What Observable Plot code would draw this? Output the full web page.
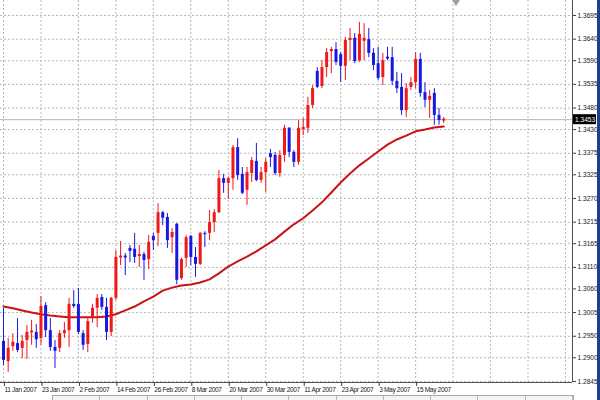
<!DOCTYPE html>
<html>
<head>
<meta charset="utf-8">
<script src="https://cdn.jsdelivr.net/npm/d3@7"></script>
<script src="https://cdn.jsdelivr.net/npm/@observablehq/plot@0.6"></script>
<style>
  html, body { margin: 0; padding: 0; background: #fff; }
  #wrap { position: relative; width: 600px; height: 400px; overflow: hidden; background: #fff; }
  #edge { position: absolute; right: 0; top: 0; width: 3px; height: 400px; background: #1c3f94; }
  #shift { position: absolute; left: 452px; top: 0; width: 0; height: 0;
           border-left: 4px solid transparent; border-right: 4px solid transparent; border-top: 6px solid #a0a0a0; }
  #tabs { position: absolute; left: 52px; top: 395px; width: 520px; height: 8px;
          border: 1px solid #a8a8a8; background: #f4f4f4; display: flex; }
  #tabs span { flex: 1; border-right: 1px solid #b8b8b8; }
  #wrap svg text.xt { letter-spacing: -0.3px; }
  #wrap svg g[aria-label="x-axis tick label"] text { letter-spacing: -0.35px; }
</style>
</head>
<body>
<div id="wrap"><div id="edge"></div><div id="shift"></div>
<div id="tabs"><span></span><span></span><span></span><span></span><span></span><span></span><span></span><span></span><span></span><span></span><span></span></div>
</div>
<script>
// Daily EURUSD-style candles, 11 Jan 2007 .. 23 May 2007 (bar index 0..94)
const opens  = [1.2938,1.2891,1.2926,1.2933,1.2922,1.2940,1.2959,1.2959,1.2945,1.3021,
                1.2963,1.2924,1.2922,1.2956,1.2963,1.3024,1.3024,1.2956,1.2931,1.2994,
                1.3015,1.3040,1.3017,1.2959,1.3038,1.3133,1.3135,1.3154,1.3152,1.3135,
                1.3140,1.3128,1.3182,1.3189,1.3237,1.3226,1.3179,1.3210,1.3084,1.3131,
                1.3182,1.3133,1.3117,1.3189,1.3189,1.3214,1.3237,1.3316,1.3305,1.3316,
                1.3388,1.3326,1.3289,1.3328,1.3356,1.3312,1.3330,1.3374,1.3370,1.3328,
                1.3370,1.3433,1.3377,1.3354,1.3430,1.3433,1.3486,1.3565,1.3530,1.3574,
                1.3611,1.3616,1.3604,1.3577,1.3637,1.3642,1.3590,1.3635,1.3639,1.3607,
                1.3583,1.3551,1.3597,1.3597,1.3542,1.3528,1.3474,1.3528,1.3539,1.3593,
                1.3516,1.3498,1.3514,1.3463,1.3451];
const highs  = [1.3015,1.2945,1.2956,1.2991,1.2952,1.2975,1.2987,1.2977,1.3042,1.3028,
                1.2991,1.2940,1.2963,1.2982,1.3038,1.3056,1.3061,1.2963,1.2991,1.3024,
                1.3047,1.3047,1.3038,1.3040,1.3149,1.3170,1.3142,1.3161,1.3189,1.3161,
                1.3145,1.3184,1.3189,1.3258,1.3240,1.3235,1.3200,1.3212,1.3131,1.3184,
                1.3184,1.3156,1.3191,1.3193,1.3242,1.3244,1.3335,1.3326,1.3319,1.3393,
                1.3409,1.3342,1.3342,1.3365,1.3398,1.3342,1.3363,1.3384,1.3377,1.3381,
                1.3440,1.3435,1.3381,1.3451,1.3456,1.3505,1.3532,1.3574,1.3590,1.3618,
                1.3621,1.3632,1.3609,1.3644,1.3665,1.3653,1.3679,1.3676,1.3665,1.3618,
                1.3621,1.3607,1.3621,1.3621,1.3563,1.3560,1.3537,1.3551,1.3609,1.3607,
                1.3539,1.3521,1.3525,1.3479,1.3458];
const lows   = [1.2882,1.2866,1.2915,1.2912,1.2898,1.2896,1.2929,1.2922,1.2929,1.2947,
                1.2915,1.2875,1.2912,1.2945,1.2924,1.3015,1.2954,1.2917,1.2912,1.2980,
                1.2970,1.3010,1.2940,1.2949,1.3033,1.3114,1.3091,1.3121,1.3119,1.3110,
                1.3080,1.3105,1.3149,1.3158,1.3207,1.3154,1.3142,1.3070,1.3080,1.3110,
                1.3114,1.3087,1.3114,1.3156,1.3172,1.3191,1.3235,1.3282,1.3268,1.3289,
                1.3312,1.3279,1.3254,1.3307,1.3309,1.3305,1.3284,1.3342,1.3323,1.3319,
                1.3354,1.3365,1.3342,1.3347,1.3416,1.3421,1.3479,1.3525,1.3525,1.3551,
                1.3560,1.3579,1.3539,1.3544,1.3590,1.3583,1.3586,1.3590,1.3597,1.3567,
                1.3544,1.3532,1.3590,1.3532,1.3514,1.3463,1.3458,1.3521,1.3525,1.3505,
                1.3481,1.3456,1.3440,1.3440,1.3444];
const closes = [1.2894,1.2922,1.2936,1.2917,1.2938,1.2959,1.2961,1.2942,1.3019,1.2963,
                1.2924,1.2915,1.2956,1.2963,1.3024,1.3019,1.2959,1.2929,1.2984,1.3015,
                1.3038,1.3017,1.2959,1.3038,1.3133,1.3135,1.3133,1.3147,1.3133,1.3140,
                1.3126,1.3168,1.3172,1.3237,1.3224,1.3172,1.3191,1.3080,1.3128,1.3179,
                1.3133,1.3117,1.3189,1.3186,1.3214,1.3237,1.3316,1.3305,1.3316,1.3388,
                1.3323,1.3282,1.3330,1.3358,1.3312,1.3330,1.3354,1.3365,1.3328,1.3370,
                1.3433,1.3377,1.3354,1.3433,1.3435,1.3486,1.3525,1.3528,1.3574,1.3609,
                1.3616,1.3586,1.3577,1.3637,1.3642,1.3588,1.3651,1.3642,1.3607,1.3579,
                1.3549,1.3590,1.3595,1.3542,1.3525,1.3474,1.3525,1.3539,1.3593,1.3514,
                1.3498,1.3507,1.3463,1.3451,1.3453];

// Moving average (red line), read at every second bar
const maBar   = [0,2,4,6,8,10,12,14,16,18,20,22,24,26,28,30,32,34,36,38,40,42,44,46,48,
                 50,52,54,56,58,60,62,64,66,68,70,72,74,76,78,80,82,84,86,88,90,92,94];
const maValue = [1.3019,1.3015,1.3010,1.3005,1.3001,1.2998,1.2996,1.2994,1.2994,1.2994,
                 1.2994,1.2996,1.3001,1.3010,1.3019,1.3031,1.3042,1.3056,1.3063,1.3068,
                 1.3070,1.3075,1.3082,1.3096,1.3112,1.3124,1.3135,1.3147,1.3161,1.3175,
                 1.3193,1.3210,1.3224,1.3242,1.3261,1.3284,1.3307,1.3328,1.3347,1.3363,
                 1.3379,1.3395,1.3407,1.3416,1.3426,1.3430,1.3435,1.3437];

// Axis ticks
const xTickBars   = [0,8,16,24,32,40,48,56,64,72,80,88];
const xTickLabels = ["11 Jan 2007","23 Jan 2007","2 Feb 2007","14 Feb 2007","26 Feb 2007",
                     "8 Mar 2007","20 Mar 2007","30 Mar 2007","11 Apr 2007","23 Apr 2007",
                     "3 May 2007","15 May 2007"];
const xGridBars   = [0,8,16,24,32,40,48,56,64,72,80,88,96,104,112,120];
const yTickValues = [1.2845,1.2900,1.2950,1.3005,1.3060,1.3110,1.3165,1.3215,1.3270,
                     1.3325,1.3375,1.3430,1.3480,1.3535,1.3590,1.3640,1.3695];
const yTickLabels = ["1.2845","1.2900","1.2950","1.3005","1.3060","1.3110","1.3165","1.3215",
                     "1.3270","1.3325","1.3375","1.3430","1.3480","1.3535","1.3590","1.3640","1.3695"];

const BULL = "#f01818", BEAR = "#1818e0";
const candles = opens.map((o, i) => ({
  i, o, h: highs[i], l: lows[i], c: closes[i],
  col: closes[i] >= o ? BULL : BEAR
}));
const ma = maBar.map((b, k) => ({b, v: maValue[k]}));
const last = closes[closes.length - 1];
const xDomain = [-0.64, 121.5];
const yDomain = [1.28426, 1.37298];
const xLabel = new Map(xTickBars.map((b, k) => [b, xTickLabels[k]]));
const yLabel = new Map(yTickValues.map((v, k) => [v, yTickLabels[k]]));
const FONT = "'Liberation Sans', Arial, sans-serif";

const grid = {stroke: "#b8b8b8", strokeOpacity: 1, strokeDasharray: "2,2"};

const plot = Plot.plot({
  width: 600, height: 400,
  marginLeft: 0, marginRight: 28, marginTop: 0, marginBottom: 18,
  style: {fontFamily: FONT, fontSize: "7px", color: "#000", background: "transparent"},
  x: {type: "linear", domain: xDomain, axis: null},
  y: {type: "linear", domain: yDomain, axis: null},
  color: {type: "identity"},
  marks: [
    Plot.gridX(xGridBars, grid),
    Plot.gridY(yTickValues, grid),
    Plot.ruleY([last], {stroke: "#b4b4b4", strokeWidth: 1}),
    Plot.line(ma, {x: "b", y: "v", stroke: "#c81414", strokeWidth: 2, curve: "linear"}),
    Plot.ruleX(candles, {x: "i", y1: "l", y2: "h", stroke: "col", strokeWidth: 1}),
    Plot.ruleX(candles, {
      x: "i",
      y1: d => Math.abs(d.c - d.o) < 0.00025 ? Math.min(d.o, d.c) - 0.00012 : d.o,
      y2: d => Math.abs(d.c - d.o) < 0.00025 ? Math.max(d.o, d.c) + 0.00012 : d.c,
      stroke: "col", strokeWidth: 3
    }),
    Plot.ruleY([yDomain[0]], {stroke: "#505050"}),
    Plot.ruleX([xDomain[1]], {stroke: "#505050"}),
    Plot.axisX(xTickBars, {
      anchor: "bottom", tickSize: 4, tickPadding: 1, textAnchor: "start", dx: 1,
      tickFormat: d => xLabel.get(d), fontSize: 6.6, stroke: "#404040", fill: "#202020"
    }),
    Plot.axisY(yTickValues, {
      anchor: "right", tickSize: 3, tickPadding: 2,
      tickFormat: d => yLabel.get(d), fontSize: 6.6, stroke: "#404040", fill: "#202020"
    })
  ]
});

// current price label box on the right axis
const svg = d3.select(plot);
const yS = plot.scale("y"), xS = plot.scale("x");
const yp = yS.apply(last), xr = xS.apply(xDomain[1]);
const g = svg.append("g").attr("text-anchor", "start");
g.append("rect").attr("x", xr + 1).attr("y", yp - 5).attr("width", 23).attr("height", 10).attr("fill", "#000");
g.append("text").attr("x", xr + 3).attr("y", yp + 2.5).attr("fill", "#fff")
  .attr("text-anchor", "start").attr("font-family", FONT).attr("font-size", 6.6)
  .text(d3.format(".4f")(last));

document.getElementById("wrap").prepend(plot);
</script>
</body>
</html>
